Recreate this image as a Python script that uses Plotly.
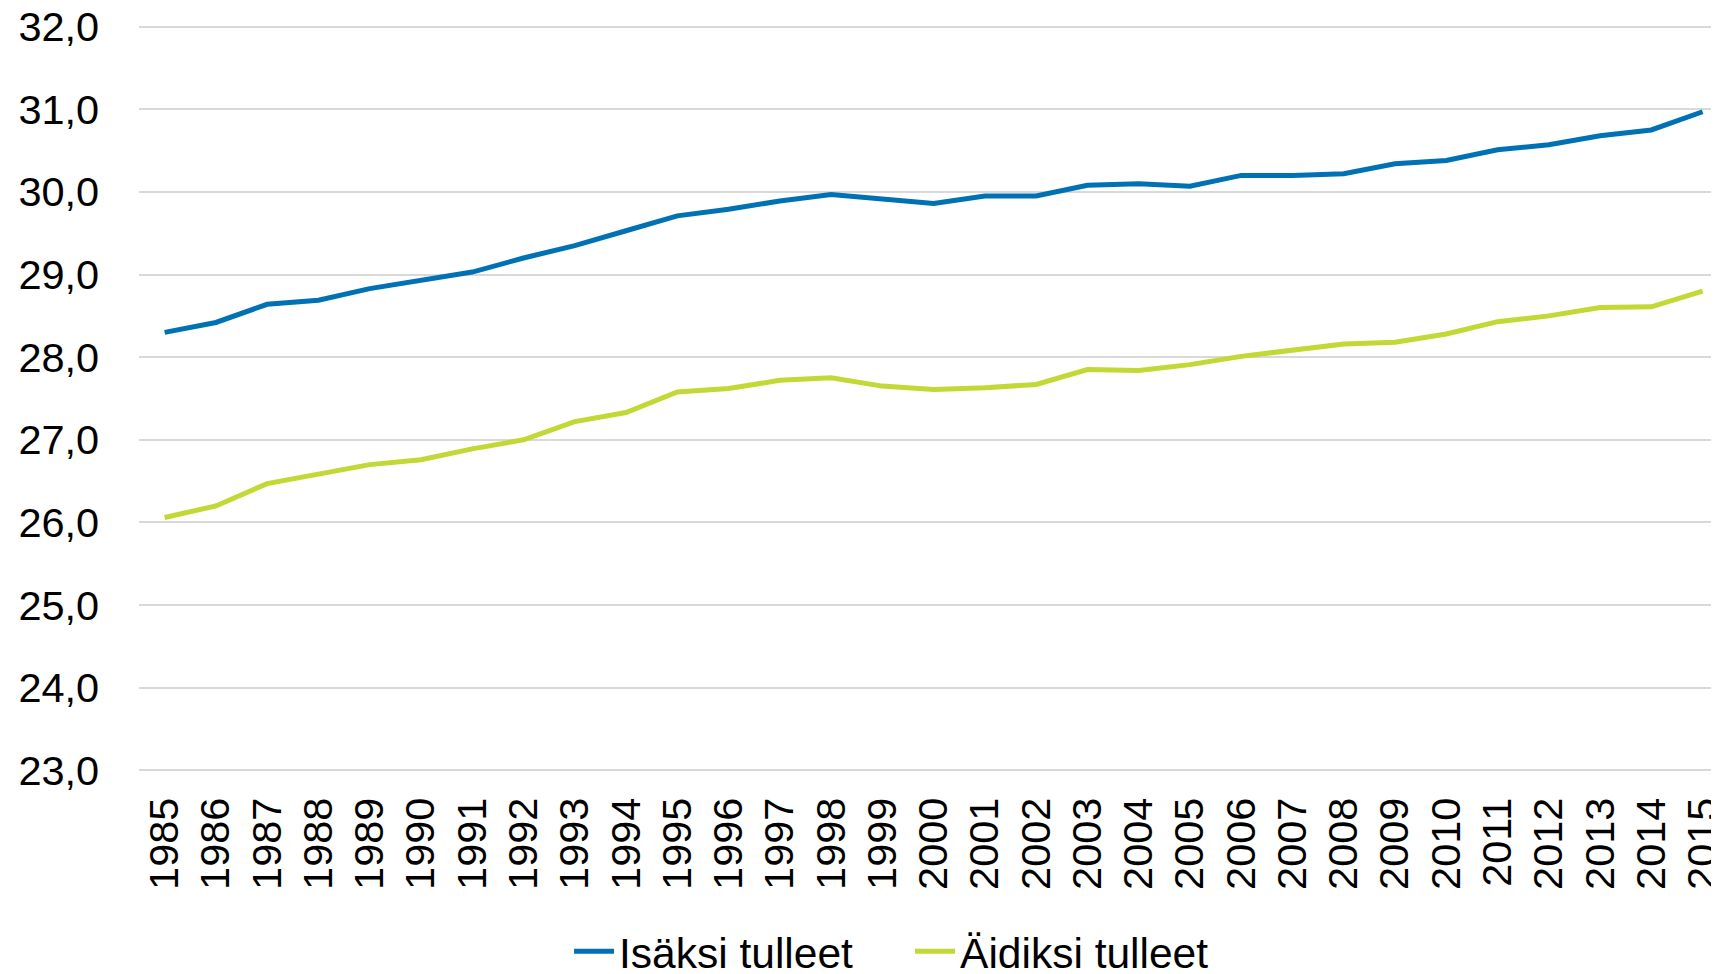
import plotly.graph_objects as go

years = [str(y) for y in range(1985, 2016)]
isaksi = [28.30, 28.42, 28.64, 28.69, 28.83, 28.93, 29.03, 29.20, 29.35, 29.53,
          29.71, 29.79, 29.89, 29.97, 29.92, 29.86, 29.95, 29.95, 30.08, 30.10,
          30.07, 30.20, 30.20, 30.22, 30.34, 30.38, 30.51, 30.57, 30.68, 30.75, 30.97]
aidiksi = [26.06, 26.20, 26.47, 26.59, 26.70, 26.76, 26.89, 27.00, 27.22, 27.33,
           27.58, 27.62, 27.72, 27.75, 27.65, 27.61, 27.63, 27.67, 27.85, 27.84,
           27.91, 28.01, 28.08, 28.16, 28.18, 28.28, 28.43, 28.50, 28.60, 28.61, 28.80]
series_names = ["Isäksi tulleet", "Äidiksi tulleet"]
y_ticks = [23, 24, 25, 26, 27, 28, 29, 30, 31, 32]
y_ticktext = [f"{v:.1f}".replace(".", ",") for v in y_ticks]

FONT = "Liberation Sans, Arial, sans-serif"
FS = 41.5

fig = go.Figure()
fig.add_trace(go.Scatter(x=list(range(len(years))), y=isaksi, name=series_names[0], mode="lines",
                         line=dict(color="#0072B3", width=5)))
fig.add_trace(go.Scatter(x=list(range(len(years))), y=aidiksi, name=series_names[1], mode="lines",
                         line=dict(color="#C2D834", width=5)))

fig.update_layout(
    width=1711, height=978,
    margin=dict(l=131, r=0, t=16.75, b=214.35),
    paper_bgcolor="white", plot_bgcolor="white",
    font=dict(family=FONT, size=FS, color="black"),
    showlegend=True,
    legend=dict(orientation="h", xref="container", yref="container",
                x=0.3279, xanchor="left", y=0.0, yanchor="bottom",
                font=dict(family=FONT, size=42.5, color="black"),
                itemwidth=40, tracegroupgap=0, entrywidth=286, entrywidthmode="pixels"),
    xaxis=dict(range=[-0.5, 30.32], tickmode="array",
               tickvals=list(range(len(years))), ticktext=years,
               tickangle=-90, showgrid=False, zeroline=False, showline=False,
               ticks="outside", ticklen=8, tickcolor="rgba(0,0,0,0)",
               automargin=False, ticklabeloverflow="allow",
               tickfont=dict(family=FONT, size=FS, color="black")),
    yaxis=dict(range=[22.98, 32.02], tickmode="array", tickvals=y_ticks, ticktext=y_ticktext,
               showgrid=True, gridcolor="#D9D9D9", gridwidth=1.8, zeroline=False, showline=False,
               ticks="outside", ticklen=30.5, tickcolor="rgba(0,0,0,0)",
               automargin=False, ticklabeloverflow="allow",
               tickfont=dict(family=FONT, size=FS, color="black")),
)

fig.write_html("out.html", post_script="document.body.style.overflow='hidden';")
